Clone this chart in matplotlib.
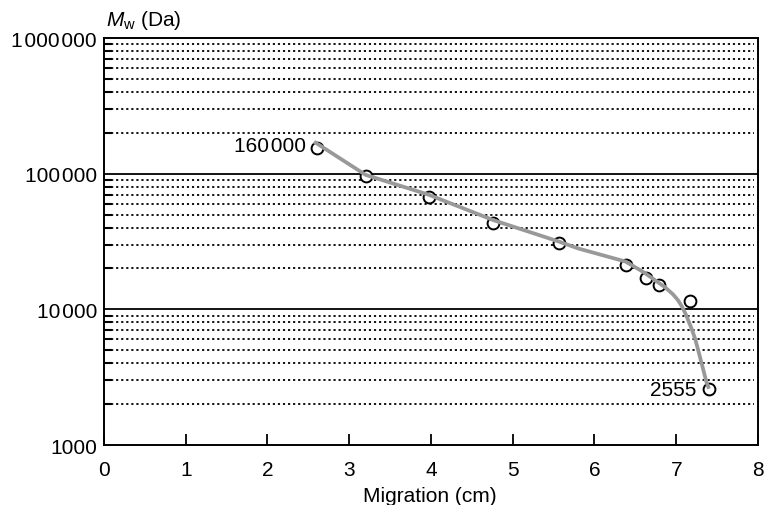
import matplotlib
matplotlib.use("Agg")
import matplotlib.pyplot as plt
import numpy as np

plt.rcParams['font.family'] = ['Liberation Sans', 'DejaVu Sans']
plt.rcParams['mathtext.fontset'] = 'custom'
plt.rcParams['mathtext.rm'] = 'Liberation Sans'
plt.rcParams['mathtext.it'] = 'Liberation Sans:italic'

# measured standards (migration in cm, Mw in Da)
migration = [2.61, 3.20, 3.97, 4.76, 5.57, 6.38, 6.63, 6.79, 7.17, 7.40]
mw = [155000, 96000, 67400, 43600, 30600, 21200, 17100, 15100, 11600, 2595]

# fitted calibration curve
curve_x = [2.57, 3.20, 3.97, 4.76, 5.57, 5.80, 6.38, 6.60, 6.86, 6.96, 7.02, 7.07, 7.12, 7.18, 7.23, 7.28, 7.33, 7.37, 7.40]
curve_y = [172000, 98000, 70000, 45500, 31500, 28100, 22500, 18800, 14600, 12900, 11700, 10500, 9100, 7400, 6100, 4700, 3600, 2900, 2600]

ytick_vals = [1000, 10000, 100000, 1000000]
ytick_labels = ['1000', '10\u200a000', '100\u200a000', '1\u200a000\u200a000']

fig = plt.figure(figsize=(7.65, 5.06), dpi=100)
ax = fig.add_axes([104/765, 1 - 446/506, 654/765, 407/506])
ax.set_yscale('log')
ax.set_xlim(0, 8)
ax.set_ylim(1000, 1000000)

# grid: solid at decades, dotted at minor steps
for d in [10000, 100000]:
    ax.axhline(d, color='black', lw=1.3, zorder=1)
for dec in [1000, 10000, 100000]:
    for m in range(2, 10):
        ax.plot([0.02, 7.95], [m*dec, m*dec], color='black', lw=1.3,
                linestyle=(0, (1.2, 1.6)), zorder=1)

ax.plot(migration, mw, 'o', ms=8.5, mfc='white', mec='black', mew=1.4, zorder=2)
ax.plot(curve_x, curve_y, color='#999999', lw=2.7, zorder=3,
        solid_capstyle='butt', solid_joinstyle='round')

ax.text(2.47, 160000, '160\u200a000', ha='right', va='center', fontsize=15)
ax.text(7.25, 2555, '2555', ha='right', va='center', fontsize=15)

ax.set_yticks(ytick_vals)
ax.set_yticklabels(ytick_labels)
ax.set_yticks([m*d for d in [1000, 10000, 100000] for m in range(2, 10)], minor=True)
ax.yaxis.set_minor_formatter(matplotlib.ticker.NullFormatter())
ax.set_xticks(range(9))
ax.tick_params(axis='x', direction='in', length=8, width=1.3, pad=11, labelsize=15)
ax.tick_params(axis='y', which='major', direction='in', length=0, pad=5, labelsize=15)
ax.tick_params(axis='y', which='minor', direction='in', length=6, width=1.5)
for s in ax.spines.values():
    s.set_linewidth(1.4)

fig.text(106/765, 1 - 21/506, r'$M_\mathrm{w}$ (Da)', fontsize=15, va='center', ha='left')
fig.text(430/765, 1 - 497/506, 'Migration (cm)', fontsize=15, va='center', ha='center')

fig.savefig('out.png', dpi=100)
